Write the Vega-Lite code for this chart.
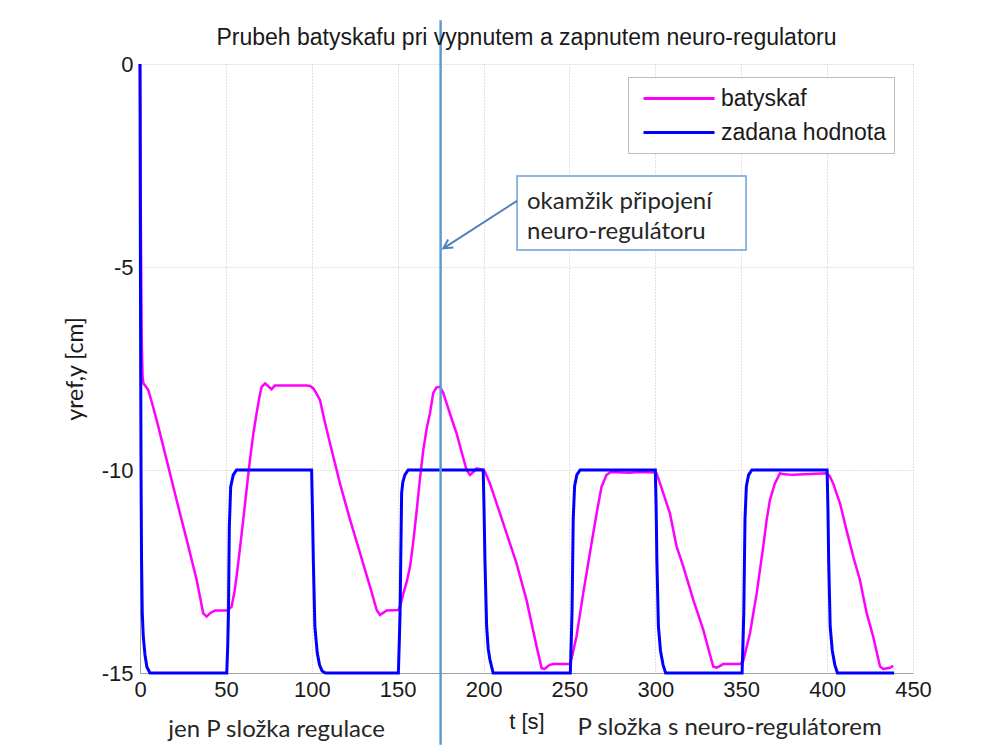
{
  "$schema": "https://vega.github.io/schema/vega-lite/v6.json",
  "width": 773,
  "height": 609,
  "autosize": "none",
  "padding": {"left": 140, "top": 64, "right": 88, "bottom": 76},
  "background": "white",
  "title": {
    "text": "Prubeh batyskafu pri vypnutem a zapnutem neuro-regulatoru",
    "font": "Liberation Sans",
    "fontSize": 23,
    "fontWeight": "normal",
    "color": "#1a1a1a",
    "offset": -31,
    "anchor": "middle"
  },
  "config": {
    "view": {"stroke": null},
    "axis": {
      "grid": true,
      "gridColor": "#c4c4c4",
      "gridDash": [1, 2],
      "gridWidth": 1,
      "domainColor": "#a0a0a0",
      "domainWidth": 1,
      "ticks": false,
      "labelFont": "Liberation Sans",
      "labelFontSize": 22,
      "labelColor": "#1a1a1a",
      "labelFlush": false,
      "labelOverlap": false,
      "titleColor": "#1a1a1a",
      "titleFontWeight": "normal"
    }
  },
  "datasets": {
    "one": [{}],
    "series": [
      {"s": "batyskaf", "t": 0, "y": 0},
      {"s": "batyskaf", "t": 0.5, "y": -4},
      {"s": "batyskaf", "t": 1, "y": -6.8},
      {"s": "batyskaf", "t": 1.5, "y": -7.7},
      {"s": "batyskaf", "t": 2, "y": -7.87},
      {"s": "batyskaf", "t": 3.5, "y": -7.95},
      {"s": "batyskaf", "t": 4.8, "y": -8.03},
      {"s": "batyskaf", "t": 7, "y": -8.35},
      {"s": "batyskaf", "t": 9.7, "y": -8.77},
      {"s": "batyskaf", "t": 15.5, "y": -9.75},
      {"s": "batyskaf", "t": 21.3, "y": -10.74},
      {"s": "batyskaf", "t": 27.2, "y": -11.72},
      {"s": "batyskaf", "t": 33, "y": -12.71},
      {"s": "batyskaf", "t": 36.8, "y": -13.53},
      {"s": "batyskaf", "t": 38.8, "y": -13.61},
      {"s": "batyskaf", "t": 41, "y": -13.52},
      {"s": "batyskaf", "t": 43.7, "y": -13.46},
      {"s": "batyskaf", "t": 50.4, "y": -13.46},
      {"s": "batyskaf", "t": 52, "y": -13.42},
      {"s": "batyskaf", "t": 53.3, "y": -13.37},
      {"s": "batyskaf", "t": 55, "y": -13.0},
      {"s": "batyskaf", "t": 56.2, "y": -12.63},
      {"s": "batyskaf", "t": 58, "y": -12.0},
      {"s": "batyskaf", "t": 60.1, "y": -11.23},
      {"s": "batyskaf", "t": 62, "y": -10.5},
      {"s": "batyskaf", "t": 64, "y": -9.75},
      {"s": "batyskaf", "t": 66, "y": -9.1},
      {"s": "batyskaf", "t": 67.9, "y": -8.6},
      {"s": "batyskaf", "t": 69.5, "y": -8.2},
      {"s": "batyskaf", "t": 70.8, "y": -7.95},
      {"s": "batyskaf", "t": 72.8, "y": -7.87},
      {"s": "batyskaf", "t": 74.5, "y": -7.93},
      {"s": "batyskaf", "t": 76.6, "y": -8.01},
      {"s": "batyskaf", "t": 78.5, "y": -7.92},
      {"s": "batyskaf", "t": 85, "y": -7.92},
      {"s": "batyskaf", "t": 97, "y": -7.92},
      {"s": "batyskaf", "t": 99, "y": -7.93},
      {"s": "batyskaf", "t": 100.9, "y": -7.99},
      {"s": "batyskaf", "t": 102.5, "y": -8.1},
      {"s": "batyskaf", "t": 104.8, "y": -8.28},
      {"s": "batyskaf", "t": 107.5, "y": -8.8},
      {"s": "batyskaf", "t": 110.6, "y": -9.34},
      {"s": "batyskaf", "t": 116.4, "y": -10.33},
      {"s": "batyskaf", "t": 122.3, "y": -11.23},
      {"s": "batyskaf", "t": 128.1, "y": -12.05},
      {"s": "batyskaf", "t": 133.9, "y": -12.87},
      {"s": "batyskaf", "t": 137.8, "y": -13.45},
      {"s": "batyskaf", "t": 139.7, "y": -13.57},
      {"s": "batyskaf", "t": 141.5, "y": -13.52},
      {"s": "batyskaf", "t": 143.6, "y": -13.46},
      {"s": "batyskaf", "t": 150.4, "y": -13.45},
      {"s": "batyskaf", "t": 151.8, "y": -13.3},
      {"s": "batyskaf", "t": 153.3, "y": -13.04},
      {"s": "batyskaf", "t": 155.3, "y": -12.75},
      {"s": "batyskaf", "t": 157.2, "y": -12.38},
      {"s": "batyskaf", "t": 159, "y": -11.8},
      {"s": "batyskaf", "t": 161.1, "y": -10.99},
      {"s": "batyskaf", "t": 163, "y": -10.2},
      {"s": "batyskaf", "t": 164.9, "y": -9.51},
      {"s": "batyskaf", "t": 167, "y": -8.95},
      {"s": "batyskaf", "t": 168.8, "y": -8.6},
      {"s": "batyskaf", "t": 170.7, "y": -8.11},
      {"s": "batyskaf", "t": 172.5, "y": -7.97},
      {"s": "batyskaf", "t": 174.6, "y": -7.95},
      {"s": "batyskaf", "t": 176.5, "y": -8.1},
      {"s": "batyskaf", "t": 178.5, "y": -8.36},
      {"s": "batyskaf", "t": 181.5, "y": -8.75},
      {"s": "batyskaf", "t": 184.3, "y": -9.1},
      {"s": "batyskaf", "t": 187.2, "y": -9.55},
      {"s": "batyskaf", "t": 190.1, "y": -10.0},
      {"s": "batyskaf", "t": 192.1, "y": -10.12},
      {"s": "batyskaf", "t": 194, "y": -10.05},
      {"s": "batyskaf", "t": 196, "y": -9.96},
      {"s": "batyskaf", "t": 198, "y": -9.98},
      {"s": "batyskaf", "t": 199.8, "y": -10.0},
      {"s": "batyskaf", "t": 200.8, "y": -10.04},
      {"s": "batyskaf", "t": 203.7, "y": -10.33},
      {"s": "batyskaf", "t": 207.6, "y": -10.82},
      {"s": "batyskaf", "t": 213.4, "y": -11.56},
      {"s": "batyskaf", "t": 219.2, "y": -12.3},
      {"s": "batyskaf", "t": 225, "y": -13.2},
      {"s": "batyskaf", "t": 230.9, "y": -14.35},
      {"s": "batyskaf", "t": 233.8, "y": -14.88},
      {"s": "batyskaf", "t": 235.5, "y": -14.9},
      {"s": "batyskaf", "t": 236.7, "y": -14.86},
      {"s": "batyskaf", "t": 238.5, "y": -14.8},
      {"s": "batyskaf", "t": 240.6, "y": -14.78},
      {"s": "batyskaf", "t": 250.3, "y": -14.78},
      {"s": "batyskaf", "t": 251.5, "y": -14.6},
      {"s": "batyskaf", "t": 254.1, "y": -14.1},
      {"s": "batyskaf", "t": 258, "y": -13.04},
      {"s": "batyskaf", "t": 261.9, "y": -12.05},
      {"s": "batyskaf", "t": 265.8, "y": -11.07},
      {"s": "batyskaf", "t": 268.7, "y": -10.41},
      {"s": "batyskaf", "t": 271.6, "y": -10.12},
      {"s": "batyskaf", "t": 274, "y": -10.05},
      {"s": "batyskaf", "t": 285, "y": -10.07},
      {"s": "batyskaf", "t": 290, "y": -10.05},
      {"s": "batyskaf", "t": 300, "y": -10.06},
      {"s": "batyskaf", "t": 300.7, "y": -10.08},
      {"s": "batyskaf", "t": 302.5, "y": -10.3},
      {"s": "batyskaf", "t": 304.6, "y": -10.57},
      {"s": "batyskaf", "t": 308.5, "y": -11.07},
      {"s": "batyskaf", "t": 312.4, "y": -11.89},
      {"s": "batyskaf", "t": 316.3, "y": -12.38},
      {"s": "batyskaf", "t": 322.1, "y": -13.2},
      {"s": "batyskaf", "t": 327.9, "y": -13.94},
      {"s": "batyskaf", "t": 333.7, "y": -14.84},
      {"s": "batyskaf", "t": 335.6, "y": -14.87},
      {"s": "batyskaf", "t": 337.5, "y": -14.83},
      {"s": "batyskaf", "t": 339.5, "y": -14.78},
      {"s": "batyskaf", "t": 349.3, "y": -14.78},
      {"s": "batyskaf", "t": 351.2, "y": -14.7},
      {"s": "batyskaf", "t": 355.1, "y": -14.02},
      {"s": "batyskaf", "t": 359, "y": -13.04},
      {"s": "batyskaf", "t": 362.8, "y": -11.89},
      {"s": "batyskaf", "t": 364.8, "y": -11.23},
      {"s": "batyskaf", "t": 366.7, "y": -10.74},
      {"s": "batyskaf", "t": 369.6, "y": -10.33},
      {"s": "batyskaf", "t": 372.6, "y": -10.08},
      {"s": "batyskaf", "t": 374, "y": -10.1},
      {"s": "batyskaf", "t": 380, "y": -10.12},
      {"s": "batyskaf", "t": 390, "y": -10.1},
      {"s": "batyskaf", "t": 399.7, "y": -10.08},
      {"s": "batyskaf", "t": 401.5, "y": -10.15},
      {"s": "batyskaf", "t": 403.5, "y": -10.33},
      {"s": "batyskaf", "t": 407.5, "y": -10.82},
      {"s": "batyskaf", "t": 411.3, "y": -11.48},
      {"s": "batyskaf", "t": 415.2, "y": -12.13},
      {"s": "batyskaf", "t": 419.1, "y": -12.71},
      {"s": "batyskaf", "t": 423, "y": -13.52},
      {"s": "batyskaf", "t": 426.8, "y": -14.1},
      {"s": "batyskaf", "t": 430.8, "y": -14.84},
      {"s": "batyskaf", "t": 432.7, "y": -14.9},
      {"s": "batyskaf", "t": 436.6, "y": -14.87},
      {"s": "batyskaf", "t": 438.5, "y": -14.82},

      {"s": "zadana hodnota", "t": 0, "y": 0},
      {"s": "zadana hodnota", "t": 0.3, "y": -6},
      {"s": "zadana hodnota", "t": 0.6, "y": -10},
      {"s": "zadana hodnota", "t": 0.9, "y": -12.2},
      {"s": "zadana hodnota", "t": 1.3, "y": -13.5},
      {"s": "zadana hodnota", "t": 1.9, "y": -14.1},
      {"s": "zadana hodnota", "t": 2.9, "y": -14.55},
      {"s": "zadana hodnota", "t": 4, "y": -14.85},
      {"s": "zadana hodnota", "t": 5.8, "y": -15},
      {"s": "zadana hodnota", "t": 50.5, "y": -15},
      {"s": "zadana hodnota", "t": 51.1, "y": -14.3},
      {"s": "zadana hodnota", "t": 51.5, "y": -13.5},
      {"s": "zadana hodnota", "t": 52, "y": -11.4},
      {"s": "zadana hodnota", "t": 52.8, "y": -10.41},
      {"s": "zadana hodnota", "t": 54.3, "y": -10.12},
      {"s": "zadana hodnota", "t": 56.2, "y": -10},
      {"s": "zadana hodnota", "t": 99.9, "y": -10},
      {"s": "zadana hodnota", "t": 100.4, "y": -11},
      {"s": "zadana hodnota", "t": 100.9, "y": -12.22},
      {"s": "zadana hodnota", "t": 101.8, "y": -13.86},
      {"s": "zadana hodnota", "t": 103.2, "y": -14.51},
      {"s": "zadana hodnota", "t": 104.5, "y": -14.8},
      {"s": "zadana hodnota", "t": 106, "y": -14.95},
      {"s": "zadana hodnota", "t": 108, "y": -15},
      {"s": "zadana hodnota", "t": 150.4, "y": -15},
      {"s": "zadana hodnota", "t": 150.9, "y": -14.3},
      {"s": "zadana hodnota", "t": 151.4, "y": -13.53},
      {"s": "zadana hodnota", "t": 152.3, "y": -10.57},
      {"s": "zadana hodnota", "t": 153.0, "y": -10.3},
      {"s": "zadana hodnota", "t": 154.2, "y": -10.12},
      {"s": "zadana hodnota", "t": 156.1, "y": -10},
      {"s": "zadana hodnota", "t": 199.8, "y": -10},
      {"s": "zadana hodnota", "t": 200.3, "y": -11},
      {"s": "zadana hodnota", "t": 200.8, "y": -12.22},
      {"s": "zadana hodnota", "t": 201.8, "y": -13.86},
      {"s": "zadana hodnota", "t": 202.7, "y": -14.4},
      {"s": "zadana hodnota", "t": 203.7, "y": -14.67},
      {"s": "zadana hodnota", "t": 205.6, "y": -15},
      {"s": "zadana hodnota", "t": 250.5, "y": -15},
      {"s": "zadana hodnota", "t": 251, "y": -14.3},
      {"s": "zadana hodnota", "t": 251.5, "y": -13.5},
      {"s": "zadana hodnota", "t": 252.2, "y": -11.2},
      {"s": "zadana hodnota", "t": 253, "y": -10.4},
      {"s": "zadana hodnota", "t": 254.3, "y": -10.12},
      {"s": "zadana hodnota", "t": 256.2, "y": -10},
      {"s": "zadana hodnota", "t": 300, "y": -10},
      {"s": "zadana hodnota", "t": 300.5, "y": -11},
      {"s": "zadana hodnota", "t": 300.9, "y": -12.22},
      {"s": "zadana hodnota", "t": 301.8, "y": -13.86},
      {"s": "zadana hodnota", "t": 303, "y": -14.45},
      {"s": "zadana hodnota", "t": 304.5, "y": -14.8},
      {"s": "zadana hodnota", "t": 306, "y": -15},
      {"s": "zadana hodnota", "t": 350.5, "y": -15},
      {"s": "zadana hodnota", "t": 351, "y": -14.3},
      {"s": "zadana hodnota", "t": 351.5, "y": -13.5},
      {"s": "zadana hodnota", "t": 352.2, "y": -11.2},
      {"s": "zadana hodnota", "t": 353, "y": -10.4},
      {"s": "zadana hodnota", "t": 354.3, "y": -10.12},
      {"s": "zadana hodnota", "t": 356.2, "y": -10},
      {"s": "zadana hodnota", "t": 400, "y": -10},
      {"s": "zadana hodnota", "t": 400.5, "y": -11},
      {"s": "zadana hodnota", "t": 400.9, "y": -12.22},
      {"s": "zadana hodnota", "t": 401.8, "y": -13.86},
      {"s": "zadana hodnota", "t": 403, "y": -14.45},
      {"s": "zadana hodnota", "t": 404.5, "y": -14.8},
      {"s": "zadana hodnota", "t": 406, "y": -15},
      {"s": "zadana hodnota", "t": 439, "y": -15}
    ]
  },
  "layer": [
    {
      "data": {"name": "series"},
      "transform": [{"filter": "datum.s == 'batyskaf'"}],
      "mark": {"type": "line", "strokeWidth": 2.5, "clip": false},
      "encoding": {
        "x": {
          "field": "t", "type": "quantitative",
          "scale": {"domain": [0, 450], "nice": false, "zero": false},
          "axis": {
            "title": "t [s]",
            "values": [0, 50, 100, 150, 200, 250, 300, 350, 400, 450],
            "labelPadding": 6,
            "titleFont": "Liberation Sans",
            "titleFontSize": 22,
            "titlePadding": 11
          }
        },
        "y": {
          "field": "y", "type": "quantitative",
          "scale": {"domain": [-15, 0], "nice": false, "zero": false},
          "axis": {
            "title": "yref,y [cm]",
            "values": [-15, -10, -5, 0],
            "labelExpr": "'' + datum.value",
            "labelPadding": 7,
            "titleFont": "Lato",
            "titleFontSize": 23,
            "titlePadding": 14
          }
        },
        "color": {
          "field": "s", "type": "nominal",
          "scale": {"domain": ["batyskaf", "zadana hodnota"], "range": ["#ff00ff", "#0000ff"]},
          "legend": {
            "title": null,
            "orient": "none",
            "legendX": 488,
            "legendY": 13,
            "padding": 8,
            "fillColor": "white",
            "strokeColor": "#bdbdbd",
            "symbolType": "M -0.5 0 L 5.42 0",
            "symbolSize": 576,
            "symbolStrokeWidth": 3,
            "labelFont": "Liberation Sans",
            "labelFontSize": 23,
            "labelColor": "#1a1a1a",
            "labelLimit": 400,
            "labelOffset": 58,
            "rowPadding": 8
          }
        }
      }
    },
    {
      "data": {"name": "series"},
      "transform": [{"filter": "datum.s == 'zadana hodnota'"}],
      "mark": {"type": "line", "strokeWidth": 3, "clip": false},
      "encoding": {
        "x": {"field": "t", "type": "quantitative"},
        "y": {"field": "y", "type": "quantitative"},
        "color": {"field": "s", "type": "nominal"}
      }
    },
    {
      "data": {"name": "one"},
      "mark": {"type": "rule", "stroke": "#5b9bd5", "strokeWidth": 2.5},
      "encoding": {
        "x": {"datum": 175, "type": "quantitative"},
        "y": {"datum": 1.08, "type": "quantitative"},
        "y2": {"datum": -16.77}
      }
    },
    {
      "data": {"name": "one"},
      "mark": {"type": "rect", "fill": "white", "stroke": "#6f9fd8", "strokeWidth": 1.5},
      "encoding": {
        "x": {"datum": 219.5, "type": "quantitative"},
        "x2": {"datum": 352.8},
        "y": {"datum": -2.76, "type": "quantitative"},
        "y2": {"datum": -4.58}
      }
    },
    {
      "data": {"name": "one"},
      "mark": {"type": "rule", "stroke": "#4f81bd", "strokeWidth": 2},
      "encoding": {
        "x": {"datum": 219.5, "type": "quantitative"},
        "x2": {"datum": 176.6},
        "y": {"datum": -3.37, "type": "quantitative"},
        "y2": {"datum": -4.54}
      }
    },
    {
      "data": {"name": "one"},
      "mark": {"type": "point", "shape": "M -0.6 1.1 L 0 0 L 0.6 1.1", "filled": false, "stroke": "#4f81bd", "strokeWidth": 2, "size": 256, "angle": 237, "opacity": 1},
      "encoding": {
        "x": {"datum": 176.6, "type": "quantitative"},
        "y": {"datum": -4.54, "type": "quantitative"}
      }
    },
    {
      "data": {"name": "one"},
      "mark": {"type": "text", "align": "left", "baseline": "middle", "font": "Lato", "fontSize": 24, "color": "#262626"},
      "encoding": {
        "x": {"datum": 225.3, "type": "quantitative"},
        "y": {"datum": -3.4, "type": "quantitative"},
        "text": {"value": "okamžik připojení"}
      }
    },
    {
      "data": {"name": "one"},
      "mark": {"type": "text", "align": "left", "baseline": "middle", "font": "Lato", "fontSize": 24, "color": "#262626"},
      "encoding": {
        "x": {"datum": 225.3, "type": "quantitative"},
        "y": {"datum": -4.14, "type": "quantitative"},
        "text": {"value": "neuro-regulátoru"}
      }
    },
    {
      "data": {"name": "one"},
      "mark": {"type": "text", "align": "center", "baseline": "middle", "font": "Lato", "fontSize": 24, "color": "#262626"},
      "encoding": {
        "x": {"datum": 79.5, "type": "quantitative"},
        "y": {"datum": -16.4, "type": "quantitative"},
        "text": {"value": "jen P složka regulace"}
      }
    },
    {
      "data": {"name": "one"},
      "mark": {"type": "text", "align": "center", "baseline": "middle", "font": "Lato", "fontSize": 24, "color": "#262626"},
      "encoding": {
        "x": {"datum": 343.2, "type": "quantitative"},
        "y": {"datum": -16.35, "type": "quantitative"},
        "text": {"value": "P složka s neuro-regulátorem"}
      }
    }
  ]
}
